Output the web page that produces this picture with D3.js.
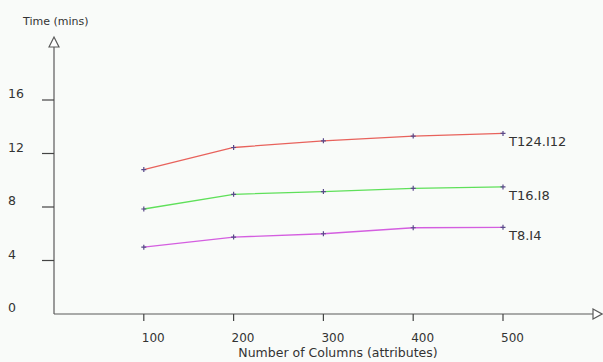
<!DOCTYPE html>
<html><head><meta charset="utf-8">
<script src="https://cdn.jsdelivr.net/npm/d3@7"></script>
<style>
html,body{margin:0;padding:0;background:#f9fbf9;}
svg{display:block;}
text{font-family:"DejaVu Sans",sans-serif;fill:#333;}
</style></head>
<body>
<script>
const columns = [100, 200, 300, 400, 500];
const seriesNames = ["T124.I12", "T16.I8", "T8.I4"];
const t124 = [10.8, 12.45, 12.95, 13.3, 13.5];
const t16 = [7.85, 8.95, 9.15, 9.4, 9.5];
const t8 = [5.0, 5.75, 6.0, 6.45, 6.48];
const yTicks = [0, 4, 8, 12, 16];
const xTicks = [100, 200, 300, 400, 500];
const colors = ["#e8625c", "#5fe05a", "#d45ee0"];

const W = 603, H = 362;
const svg = d3.select("body").append("svg").attr("width", W).attr("height", H);
const x = d3.scaleLinear().domain([0, 500]).range([54, 503]);
const y = d3.scaleLinear().domain([0, 16]).range([314, 100]);
const axisColor = "#5a5a5a";

svg.append("line").attr("x1", 54).attr("x2", 593).attr("y1", y(0)).attr("y2", y(0))
  .attr("stroke", axisColor).attr("stroke-width", 1.2);
svg.append("line").attr("x1", 54).attr("x2", 54).attr("y1", y(0)).attr("y2", 46)
  .attr("stroke", axisColor).attr("stroke-width", 1.2);
svg.append("path").attr("d", `M49,47 L54,37 L59,47 Z`).attr("fill", "#fff").attr("stroke", axisColor).attr("stroke-width", 1.2);
svg.append("path").attr("d", `M593,${y(0)-5} L602,${y(0)} L593,${y(0)+5} Z`).attr("fill", "#fff").attr("stroke", axisColor).attr("stroke-width", 1.2);

const yg = svg.append("g");
yTicks.forEach(v => {
  if (v > 0) yg.append("line").attr("x1", 42).attr("x2", 54).attr("y1", y(v)).attr("y2", y(v))
    .attr("stroke", "#444").attr("stroke-width", 1.2);
  yg.append("text").attr("x", 8).attr("y", y(v) - 2).attr("font-size", 12.5).text(v);
});
const xg = svg.append("g");
xTicks.forEach(v => {
  xg.append("line").attr("x1", x(v)).attr("x2", x(v)).attr("y1", y(0)).attr("y2", y(0) + 7)
    .attr("stroke", "#444").attr("stroke-width", 1.2);
  xg.append("text").attr("x", x(v) - 2).attr("y", 342).attr("font-size", 12).text(v);
});
svg.append("text").attr("x", 338).attr("y", 357).attr("text-anchor", "middle").attr("font-size", 12.5)
  .text("Number of Columns (attributes)");
svg.append("text").attr("x", 23).attr("y", 25).attr("font-size", 11).text("Time (mins)");

const data = [t124, t16, t8];
const line = d3.line().x((d, i) => x(columns[i])).y(d => y(d));
data.forEach((s, k) => {
  svg.append("path").datum(s).attr("d", line).attr("fill", "none")
    .attr("stroke", colors[k]).attr("stroke-width", 1.3);
  s.forEach((v, i) => {
    const cx = x(columns[i]), cy = y(v);
    svg.append("path").attr("d", `M${cx-2.5},${cy} H${cx+2.5} M${cx},${cy-2.5} V${cy+2.5}`)
      .attr("stroke", "#5a4a8a").attr("stroke-width", 1.2);
  });
  svg.append("text").attr("x", x(500) + 6).attr("y", y(s[4]) + 13).attr("font-size", 13)
    .text(seriesNames[k]);
});
</script>
</body></html>
